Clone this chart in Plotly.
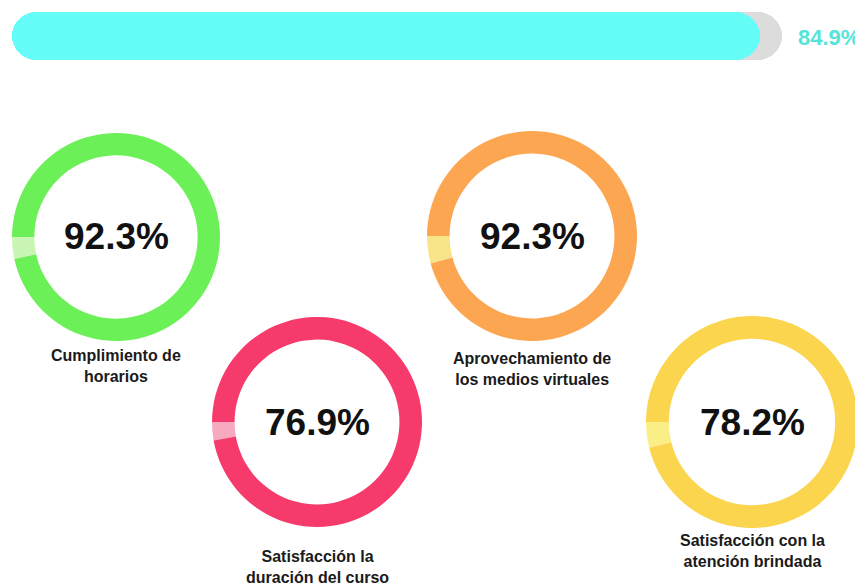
import plotly.graph_objects as go

# ---- data ----
overall_label = "Avance general"
overall_value = 84.9
overall_track = 87.4  # visible length of the grey track

donut_labels = [
    "Cumplimiento de<br>horarios",
    "Satisfacción la<br>duración del curso",
    "Aprovechamiento de<br>los medios virtuales",
    "Satisfacción con la<br>atención brindada",
]
donut_values = [92.3, 76.9, 92.3, 78.2]
light_arc = [3.4, 2.8, 4.2, 3.9]  # small lighter arc at 9 o'clock (% of circle)

# ---- styles / layout ----
OFF = 8                      # page body margin of the html page
W, H = 863 - OFF, 588 - OFF  # figure size so that it fits the window
main_colors = ["#6cf058", "#f73a6c", "#fca652", "#fbd54e"]
light_colors = ["#c9f6b4", "#f7a9c0", "#f8e58a", "#f9ef86"]
centers = [(116, 237), (317, 422), (532, 236), (752, 422)]  # page px from top-left
radii = [104, 105, 105, 106]
label_y = [366, 567, 369, 551]


def px(x):
    return (x - OFF) / W


def py(y):
    return (H - (y - OFF)) / H


fig = go.Figure()

# progress bar (track + value), base given explicitly so both ends are rounded
for length, color in [(overall_track, "#dcdcdc"), (overall_value, "#66fdf8")]:
    fig.add_trace(go.Bar(x=[length], base=[0], y=[overall_label], orientation="h",
                         marker=dict(color=color, line=dict(width=0)),
                         hoverinfo="skip", showlegend=False))

for i, (lab, val) in enumerate(zip(donut_labels, donut_values)):
    cx, cy = centers[i]
    r = radii[i]
    fig.add_trace(go.Pie(
        values=[light_arc[i], 100 - light_arc[i]],
        labels=["resto", lab.replace("<br>", " ")],
        marker=dict(colors=[light_colors[i], main_colors[i]], line=dict(width=0)),
        hole=0.785, sort=False, direction="clockwise", rotation=270 - light_arc[i] * 3.6,
        textinfo="none", showlegend=False,
        domain=dict(x=[px(cx - r), px(cx + r)], y=[py(cy + r), py(cy - r)]),
    ))
    fig.add_annotation(x=px(cx), y=py(cy), xref="paper", yref="paper",
                       xanchor="center", yanchor="middle",
                       text=f"<b>{val:.1f}%</b>", showarrow=False,
                       font=dict(family="Liberation Sans, Arial, sans-serif", size=37, color="#111111"))
    fig.add_annotation(x=px(cx), y=py(label_y[i]), xref="paper", yref="paper",
                       xanchor="center", yanchor="middle",
                       text=f"<b>{lab}</b>", showarrow=False, align="center",
                       font=dict(family="Liberation Sans, Arial, sans-serif", size=16, color="#1a1a1a"))

fig.add_annotation(x=px(829), y=py(38), xref="paper", yref="paper",
                   xanchor="center", yanchor="middle",
                   text=f"<b>{overall_value:.1f}%</b>", showarrow=False,
                   font=dict(family="Liberation Sans Narrow, Liberation Sans, Arial, sans-serif",
                             size=22, color="#55e4d9"))

fig.update_layout(
    width=W, height=H, margin=dict(l=0, r=0, t=0, b=0),
    paper_bgcolor="white", plot_bgcolor="white",
    barmode="overlay", bargap=0, barcornerradius=24,
    xaxis=dict(domain=[px(12), px(782)], range=[0, overall_track], visible=False, fixedrange=True),
    yaxis=dict(domain=[py(60), py(12)], visible=False, fixedrange=True),
)

fig.write_html("out.html")
